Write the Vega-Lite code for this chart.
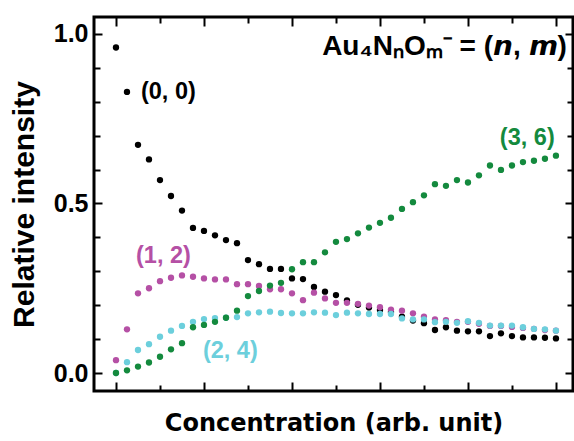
{
  "$schema": "https://vega.github.io/schema/vega-lite/v6.json",
  "width": 479,
  "height": 374,
  "autosize": "none",
  "padding": {"left": 94, "top": 17, "right": 1, "bottom": 50},
  "background": "white",
  "config": {
    "view": {"stroke": "black", "strokeWidth": 3},
    "font": "Liberation Sans",
    "axis": {"grid": false, "domain": false, "tickColor": "black", "tickWidth": 2, "labelColor": "black", "titleColor": "black"}
  },
  "datasets": {
    "points": [
      {"series": "(0, 0)", "x": 0, "y": 0.960}, {"series": "(0, 0)", "x": 1, "y": 0.829}, {"series": "(0, 0)", "x": 2, "y": 0.673}, {"series": "(0, 0)", "x": 3, "y": 0.630}, {"series": "(0, 0)", "x": 4, "y": 0.569}, {"series": "(0, 0)", "x": 5, "y": 0.522}, {"series": "(0, 0)", "x": 6, "y": 0.479}, {"series": "(0, 0)", "x": 7, "y": 0.428}, {"series": "(0, 0)", "x": 8, "y": 0.419}, {"series": "(0, 0)", "x": 9, "y": 0.406}, {"series": "(0, 0)", "x": 10, "y": 0.392}, {"series": "(0, 0)", "x": 11, "y": 0.383}, {"series": "(0, 0)", "x": 12, "y": 0.333}, {"series": "(0, 0)", "x": 13, "y": 0.321}, {"series": "(0, 0)", "x": 14, "y": 0.307}, {"series": "(0, 0)", "x": 15, "y": 0.307}, {"series": "(0, 0)", "x": 16, "y": 0.279}, {"series": "(0, 0)", "x": 17, "y": 0.277}, {"series": "(0, 0)", "x": 18, "y": 0.254}, {"series": "(0, 0)", "x": 19, "y": 0.240}, {"series": "(0, 0)", "x": 20, "y": 0.230}, {"series": "(0, 0)", "x": 21, "y": 0.214}, {"series": "(0, 0)", "x": 22, "y": 0.201}, {"series": "(0, 0)", "x": 23, "y": 0.193}, {"series": "(0, 0)", "x": 24, "y": 0.186}, {"series": "(0, 0)", "x": 25, "y": 0.180}, {"series": "(0, 0)", "x": 26, "y": 0.166}, {"series": "(0, 0)", "x": 27, "y": 0.155}, {"series": "(0, 0)", "x": 28, "y": 0.147}, {"series": "(0, 0)", "x": 29, "y": 0.127}, {"series": "(0, 0)", "x": 30, "y": 0.135}, {"series": "(0, 0)", "x": 31, "y": 0.125}, {"series": "(0, 0)", "x": 32, "y": 0.123}, {"series": "(0, 0)", "x": 33, "y": 0.123}, {"series": "(0, 0)", "x": 34, "y": 0.109}, {"series": "(0, 0)", "x": 35, "y": 0.117}, {"series": "(0, 0)", "x": 36, "y": 0.109}, {"series": "(0, 0)", "x": 37, "y": 0.105}, {"series": "(0, 0)", "x": 38, "y": 0.105}, {"series": "(0, 0)", "x": 39, "y": 0.104}, {"series": "(0, 0)", "x": 40, "y": 0.102},
      {"series": "(1, 2)", "x": 0, "y": 0.038}, {"series": "(1, 2)", "x": 1, "y": 0.129}, {"series": "(1, 2)", "x": 2, "y": 0.235}, {"series": "(1, 2)", "x": 3, "y": 0.250}, {"series": "(1, 2)", "x": 4, "y": 0.271}, {"series": "(1, 2)", "x": 5, "y": 0.281}, {"series": "(1, 2)", "x": 6, "y": 0.288}, {"series": "(1, 2)", "x": 7, "y": 0.284}, {"series": "(1, 2)", "x": 8, "y": 0.279}, {"series": "(1, 2)", "x": 9, "y": 0.276}, {"series": "(1, 2)", "x": 10, "y": 0.276}, {"series": "(1, 2)", "x": 11, "y": 0.262}, {"series": "(1, 2)", "x": 12, "y": 0.262}, {"series": "(1, 2)", "x": 13, "y": 0.257}, {"series": "(1, 2)", "x": 14, "y": 0.247}, {"series": "(1, 2)", "x": 15, "y": 0.247}, {"series": "(1, 2)", "x": 16, "y": 0.235}, {"series": "(1, 2)", "x": 17, "y": 0.215}, {"series": "(1, 2)", "x": 18, "y": 0.237}, {"series": "(1, 2)", "x": 19, "y": 0.220}, {"series": "(1, 2)", "x": 20, "y": 0.207}, {"series": "(1, 2)", "x": 21, "y": 0.207}, {"series": "(1, 2)", "x": 22, "y": 0.204}, {"series": "(1, 2)", "x": 23, "y": 0.199}, {"series": "(1, 2)", "x": 24, "y": 0.194}, {"series": "(1, 2)", "x": 25, "y": 0.187}, {"series": "(1, 2)", "x": 26, "y": 0.184}, {"series": "(1, 2)", "x": 27, "y": 0.176}, {"series": "(1, 2)", "x": 28, "y": 0.166}, {"series": "(1, 2)", "x": 29, "y": 0.158}, {"series": "(1, 2)", "x": 30, "y": 0.156}, {"series": "(1, 2)", "x": 31, "y": 0.151}, {"series": "(1, 2)", "x": 32, "y": 0.151}, {"series": "(1, 2)", "x": 33, "y": 0.145}, {"series": "(1, 2)", "x": 34, "y": 0.139}, {"series": "(1, 2)", "x": 35, "y": 0.139}, {"series": "(1, 2)", "x": 36, "y": 0.136}, {"series": "(1, 2)", "x": 37, "y": 0.133}, {"series": "(1, 2)", "x": 38, "y": 0.130}, {"series": "(1, 2)", "x": 39, "y": 0.127}, {"series": "(1, 2)", "x": 40, "y": 0.125},
      {"series": "(2, 4)", "x": 0, "y": 0.000}, {"series": "(2, 4)", "x": 1, "y": 0.032}, {"series": "(2, 4)", "x": 2, "y": 0.068}, {"series": "(2, 4)", "x": 3, "y": 0.085}, {"series": "(2, 4)", "x": 4, "y": 0.107}, {"series": "(2, 4)", "x": 5, "y": 0.125}, {"series": "(2, 4)", "x": 6, "y": 0.139}, {"series": "(2, 4)", "x": 7, "y": 0.151}, {"series": "(2, 4)", "x": 8, "y": 0.159}, {"series": "(2, 4)", "x": 9, "y": 0.162}, {"series": "(2, 4)", "x": 10, "y": 0.163}, {"series": "(2, 4)", "x": 11, "y": 0.165}, {"series": "(2, 4)", "x": 12, "y": 0.176}, {"series": "(2, 4)", "x": 13, "y": 0.179}, {"series": "(2, 4)", "x": 14, "y": 0.181}, {"series": "(2, 4)", "x": 15, "y": 0.177}, {"series": "(2, 4)", "x": 16, "y": 0.176}, {"series": "(2, 4)", "x": 17, "y": 0.176}, {"series": "(2, 4)", "x": 18, "y": 0.179}, {"series": "(2, 4)", "x": 19, "y": 0.178}, {"series": "(2, 4)", "x": 20, "y": 0.171}, {"series": "(2, 4)", "x": 21, "y": 0.178}, {"series": "(2, 4)", "x": 22, "y": 0.176}, {"series": "(2, 4)", "x": 23, "y": 0.174}, {"series": "(2, 4)", "x": 24, "y": 0.174}, {"series": "(2, 4)", "x": 25, "y": 0.174}, {"series": "(2, 4)", "x": 26, "y": 0.161}, {"series": "(2, 4)", "x": 27, "y": 0.158}, {"series": "(2, 4)", "x": 28, "y": 0.158}, {"series": "(2, 4)", "x": 29, "y": 0.150}, {"series": "(2, 4)", "x": 30, "y": 0.151}, {"series": "(2, 4)", "x": 31, "y": 0.148}, {"series": "(2, 4)", "x": 32, "y": 0.153}, {"series": "(2, 4)", "x": 33, "y": 0.148}, {"series": "(2, 4)", "x": 34, "y": 0.140}, {"series": "(2, 4)", "x": 35, "y": 0.140}, {"series": "(2, 4)", "x": 36, "y": 0.140}, {"series": "(2, 4)", "x": 37, "y": 0.135}, {"series": "(2, 4)", "x": 38, "y": 0.130}, {"series": "(2, 4)", "x": 39, "y": 0.129}, {"series": "(2, 4)", "x": 40, "y": 0.125},
      {"series": "(3, 6)", "x": 0, "y": 0.000}, {"series": "(3, 6)", "x": 1, "y": 0.008}, {"series": "(3, 6)", "x": 2, "y": 0.019}, {"series": "(3, 6)", "x": 3, "y": 0.031}, {"series": "(3, 6)", "x": 4, "y": 0.048}, {"series": "(3, 6)", "x": 5, "y": 0.070}, {"series": "(3, 6)", "x": 6, "y": 0.088}, {"series": "(3, 6)", "x": 7, "y": 0.135}, {"series": "(3, 6)", "x": 8, "y": 0.142}, {"series": "(3, 6)", "x": 9, "y": 0.151}, {"series": "(3, 6)", "x": 10, "y": 0.163}, {"series": "(3, 6)", "x": 11, "y": 0.184}, {"series": "(3, 6)", "x": 12, "y": 0.227}, {"series": "(3, 6)", "x": 13, "y": 0.242}, {"series": "(3, 6)", "x": 14, "y": 0.258}, {"series": "(3, 6)", "x": 15, "y": 0.266}, {"series": "(3, 6)", "x": 16, "y": 0.306}, {"series": "(3, 6)", "x": 17, "y": 0.327}, {"series": "(3, 6)", "x": 18, "y": 0.327}, {"series": "(3, 6)", "x": 19, "y": 0.356}, {"series": "(3, 6)", "x": 20, "y": 0.387}, {"series": "(3, 6)", "x": 21, "y": 0.395}, {"series": "(3, 6)", "x": 22, "y": 0.412}, {"series": "(3, 6)", "x": 23, "y": 0.429}, {"series": "(3, 6)", "x": 24, "y": 0.443}, {"series": "(3, 6)", "x": 25, "y": 0.458}, {"series": "(3, 6)", "x": 26, "y": 0.484}, {"series": "(3, 6)", "x": 27, "y": 0.504}, {"series": "(3, 6)", "x": 28, "y": 0.524}, {"series": "(3, 6)", "x": 29, "y": 0.557}, {"series": "(3, 6)", "x": 30, "y": 0.552}, {"series": "(3, 6)", "x": 31, "y": 0.569}, {"series": "(3, 6)", "x": 32, "y": 0.562}, {"series": "(3, 6)", "x": 33, "y": 0.583}, {"series": "(3, 6)", "x": 34, "y": 0.612}, {"series": "(3, 6)", "x": 35, "y": 0.599}, {"series": "(3, 6)", "x": 36, "y": 0.612}, {"series": "(3, 6)", "x": 37, "y": 0.622}, {"series": "(3, 6)", "x": 38, "y": 0.626}, {"series": "(3, 6)", "x": 39, "y": 0.632}, {"series": "(3, 6)", "x": 40, "y": 0.641}
    ],
    "labels": [
      {"series": "(0, 0)", "x": 2.27, "y": 0.829},
      {"series": "(1, 2)", "x": 1.82, "y": 0.345},
      {"series": "(2, 4)", "x": 7.9, "y": 0.065},
      {"series": "(3, 6)", "x": 34.9, "y": 0.693}
    ],
    "title": [
      {"x": 41.0, "y": 0.938, "text": "Au₄NₙOₘ⁻ = (𝙣, 𝙢)"}
    ]
  },
  "layer": [
    {
      "data": {"name": "points"},
      "transform": [{"filter": "datum.series === '(0, 0)'"}],
      "mark": {"type": "circle", "size": 40, "opacity": 1},
      "encoding": {
        "x": {"field": "x", "type": "quantitative", "scale": {"domain": [-2, 41.55], "nice": false, "zero": false},
              "axis": {"orient": "bottom", "values": [0, 8, 16, 24, 32, 40], "tickSize": -9, "labels": false, "title": "Concentration (arb. unit)", "titleFont": "DejaVu Sans", "titleFontSize": 24, "titleFontWeight": "bold", "titlePadding": 19}},
        "y": {"field": "y", "type": "quantitative", "scale": {"domain": [-0.053, 1.05], "nice": false, "zero": false},
              "axis": {"orient": "left", "values": [0, 0.5, 1], "format": ".1f", "tickSize": -8, "labelPadding": 14, "labelFontSize": 25, "labelFontWeight": "bold", "title": "Relative intensity", "titleFontSize": 30, "titleFontWeight": "bold", "titlePadding": 14}},
        "color": {"field": "series", "type": "nominal", "scale": {"domain": ["(0, 0)", "(1, 2)", "(2, 4)", "(3, 6)"], "range": ["#000000", "#b550a5", "#6ccfdc", "#148a3e"]}, "legend": null}
      }
    },
    {
      "data": {"name": "points"},
      "transform": [{"filter": "datum.series === '(1, 2)'"}],
      "mark": {"type": "circle", "size": 40, "opacity": 1},
      "encoding": {
        "x": {"field": "x", "type": "quantitative", "scale": {"domain": [-2, 41.55], "nice": false, "zero": false},
              "axis": {"orient": "bottom", "values": [4, 12, 20, 28, 36], "tickSize": -6, "labels": false, "title": null}},
        "y": {"field": "y", "type": "quantitative", "scale": {"domain": [-0.053, 1.05], "nice": false, "zero": false},
              "axis": {"orient": "left", "values": [0.1, 0.2, 0.3, 0.4, 0.6, 0.7, 0.8, 0.9], "tickSize": -6, "labels": false, "title": null}},
        "color": {"field": "series", "type": "nominal", "legend": null}
      }
    },
    {
      "data": {"name": "points"},
      "transform": [{"filter": "datum.series === '(2, 4)'"}],
      "mark": {"type": "circle", "size": 40, "opacity": 1},
      "encoding": {
        "x": {"field": "x", "type": "quantitative", "scale": {"domain": [-2, 41.55], "nice": false, "zero": false},
              "axis": {"orient": "top", "values": [0, 8, 16, 24, 32, 40], "tickSize": -9, "labels": false, "title": null}},
        "y": {"field": "y", "type": "quantitative", "scale": {"domain": [-0.053, 1.05], "nice": false, "zero": false},
              "axis": {"orient": "right", "values": [0, 0.5, 1], "tickSize": -8, "labels": false, "title": null}},
        "color": {"field": "series", "type": "nominal", "legend": null}
      }
    },
    {
      "data": {"name": "points"},
      "transform": [{"filter": "datum.series === '(3, 6)'"}],
      "mark": {"type": "circle", "size": 40, "opacity": 1},
      "encoding": {
        "x": {"field": "x", "type": "quantitative", "scale": {"domain": [-2, 41.55], "nice": false, "zero": false},
              "axis": {"orient": "top", "values": [4, 12, 20, 28, 36], "tickSize": -6, "labels": false, "title": null}},
        "y": {"field": "y", "type": "quantitative", "scale": {"domain": [-0.053, 1.05], "nice": false, "zero": false},
              "axis": {"orient": "right", "values": [0.1, 0.2, 0.3, 0.4, 0.6, 0.7, 0.8, 0.9], "tickSize": -6, "labels": false, "title": null}},
        "color": {"field": "series", "type": "nominal", "legend": null}
      }
    },
    {
      "data": {"name": "labels"},
      "mark": {"type": "text", "align": "left", "baseline": "middle", "fontSize": 23.5, "fontWeight": "bold"},
      "encoding": {
        "x": {"field": "x", "type": "quantitative", "axis": null},
        "y": {"field": "y", "type": "quantitative", "axis": null},
        "text": {"field": "series"},
        "color": {"field": "series", "type": "nominal", "legend": null}
      }
    },
    {
      "data": {"name": "title"},
      "mark": {"type": "text", "align": "right", "baseline": "alphabetic", "fontSize": 28, "fontWeight": "bold", "color": "black"},
      "encoding": {
        "x": {"field": "x", "type": "quantitative", "axis": null},
        "y": {"field": "y", "type": "quantitative", "axis": null},
        "text": {"field": "text"}
      }
    }
  ],
  "resolve": {"axis": {"x": "independent", "y": "independent"}}
}
